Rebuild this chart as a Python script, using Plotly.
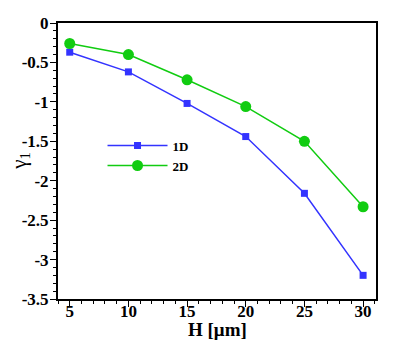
import plotly.graph_objects as go

# data
h_values = [5, 10, 15, 20, 25, 30]
gamma_1d = [-0.37, -0.62, -1.02, -1.44, -2.16, -3.20]
gamma_2d = [-0.26, -0.40, -0.72, -1.06, -1.50, -2.33]
x_ticks = [5, 10, 15, 20, 25, 30]
y_ticks = [0, -0.5, -1, -1.5, -2, -2.5, -3, -3.5]
y_labels = ["0", "-0.5", "-1", "-1.5", "-2", "-2.5", "-3", "-3.5"]

serif = "Liberation Serif"

fig = go.Figure()

fig.add_trace(go.Scatter(
    x=h_values, y=gamma_1d, name="<b>1D</b>", mode="lines+markers",
    line=dict(color="#3333ff", width=1.5),
    marker=dict(symbol="square", size=7, color="#3333ff"),
))
fig.add_trace(go.Scatter(
    x=h_values, y=gamma_2d, name="<b>2D</b>", mode="lines+markers",
    line=dict(color="#11cc11", width=1.5),
    marker=dict(symbol="circle", size=11, color="#11cc11"),
))

tick_font = dict(family=serif, size=17, color="black", weight="bold")

fig.update_layout(
    width=393, height=338,
    margin=dict(l=50, r=25, t=15, b=47),
    plot_bgcolor="white", paper_bgcolor="white",
    font=dict(family=serif, size=17, color="black"),
    showlegend=True,
    xaxis=dict(
        range=[4, 31.1], tickmode="array", tickvals=x_ticks,
        ticktext=["<b>%d</b>" % v for v in x_ticks],
        tickfont=tick_font, automargin=False, ticklabelstandoff=-10,
        showgrid=False, zeroline=False, showline=True, linecolor="black",
        linewidth=2, mirror=True, ticks="outside", ticklen=6, tickwidth=1,
        tickcolor="black",
        minor=dict(ticks="outside", ticklen=3, dtick=1, tickcolor="black"),
    ),
    yaxis=dict(
        range=[-3.5, 0], tickmode="array", tickvals=y_ticks,
        ticktext=["<b>%s</b>" % s for s in y_labels],
        tickfont=tick_font, automargin=False, ticklabelstandoff=-2,
        showgrid=False, zeroline=False, showline=True, linecolor="black",
        linewidth=2, mirror=True, ticks="outside", ticklen=6, tickwidth=1,
        tickcolor="black",
        minor=dict(ticks="outside", ticklen=3, dtick=0.1, tickcolor="black"),
    ),
    legend=dict(
        x=0.14, y=0.61, xanchor="left", yanchor="top",
        bgcolor="rgba(0,0,0,0)", itemwidth=60,
        font=dict(family=serif, size=13, color="black"),
        tracegroupgap=0,
    ),
)

# axis titles
fig.add_annotation(
    text="<b>H [μm]</b>", xref="paper", yref="paper", x=0.5, y=-0.112,
    xanchor="center", yanchor="middle", showarrow=False,
    font=dict(family=serif, size=19, color="black"),
)
fig.add_annotation(
    text="γ<sub>1</sub>", xref="paper", yref="paper", x=-0.12, y=0.5,
    xanchor="center", yanchor="middle",
    textangle=-90, showarrow=False,
    font=dict(family=serif, size=21, color="black"),
)

fig.write_html("out.html")
